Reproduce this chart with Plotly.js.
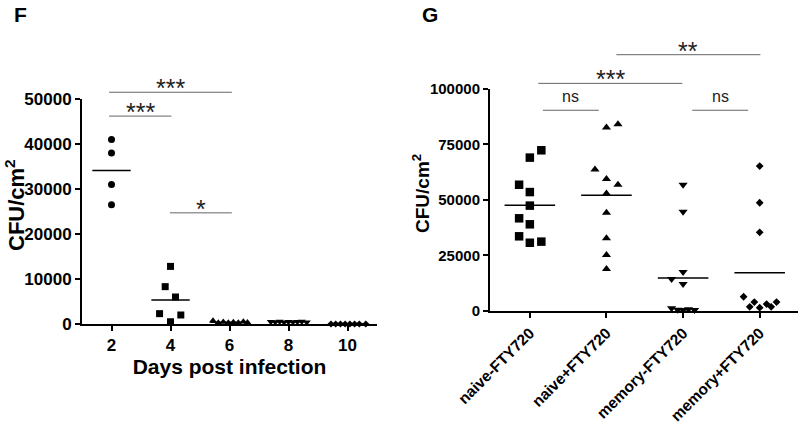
<!DOCTYPE html>
<html><head><meta charset="utf-8">
<script src="https://cdn.plot.ly/plotly-3.0.1.min.js"></script>
<style>html,body{margin:0;padding:0;background:#fff}</style>
</head><body><div id="chart" style="width:800px;height:424px"></div>
<script>
// ---------- Panel F data ----------
const dayTicks = [2, 4, 6, 8, 10];
const day2CFU = [41000, 38000, 31000, 26500];
const day2Jitter = [0, 0, 0, 0];
const day4CFU = [12800, 8300, 6000, 2300, 2000, 500];
const day4Jitter = [0, -0.18, 0.17, -0.37, 0.35, 0];
const day6CFU = [700, 300, 450, 250, 400, 300, 500, 350];
const day6Jitter = [-0.56, -0.38, -0.21, -0.04, 0.13, 0.30, 0.47, 0.61];
const day8CFU = [500, 450, 550, 400, 500, 450, 500, 550, 400];
const day8Jitter = [-0.6, -0.45, -0.3, -0.15, 0, 0.15, 0.3, 0.45, 0.62];
const day10CFU = [0, 0, 0, 0, 0, 0, 0, 0];
const day10Jitter = [-0.56, -0.4, -0.24, -0.08, 0.08, 0.24, 0.4, 0.62];
const fBracketStart = [1.92, 1.92, 3.98];
const fBracketEnd = [6.08, 4.03, 6.08];
const fBracketLevel = [51500, 46200, 24700];
const fBracketLabel = ['***', '***', '*'];

// ---------- Panel G data ----------
const groups = ['naive-FTY720', 'naive+FTY720', 'memory-FTY720', 'memory+FTY720'];
const naiveMinus = [72300, 69000, 56800, 53500, 47400, 41700, 39000, 33600, 30700, 31200];
const naiveMinusJitter = [0.15, 0, -0.14, 0, 0, -0.14, 0, -0.14, 0, 0.15];
const naivePlus = [84000, 82500, 63700, 59400, 56800, 52900, 44200, 32700, 25200, 18900];
const naivePlusJitter = [0.15, 0, -0.15, 0, 0.15, 0, 0, 0, 0, 0];
const memoryMinus = [56800, 44700, 17500, 14400, 12100, 1200, 600, 400, 800, 500];
const memoryMinusJitter = [0, 0, 0, -0.15, 0, -0.15, -0.07, 0, 0.07, 0.15];
const memoryPlus = [65200, 48700, 35400, 6400, 4000, 4000, 3100, 1900, 1900, 1500];
const memoryPlusJitter = [0, 0, 0, -0.21, -0.07, 0.22, 0.09, -0.13, 0.15, 0];
const gBracketStart = [1.13, 0.11, 0.17, 2.12];
const gBracketEnd = [3.01, 1.99, 0.90, 2.85];
const gBracketLevel = [115300, 102400, 90300, 90300];
const gBracketLabel = ['**', '***', 'ns', 'ns'];

const yTitle = 'CFU/cm<sup>2</sup>';
const xTitleF = 'Days post infection';

// ---------- helpers ----------
const FONT = 'Liberation Sans, Arial, sans-serif';
const mean = a => a.reduce((s, v) => s + v, 0) / a.length;
const FMAX = 50000, GMAX = 100000;

function pts(center, jitter, vals, symbol, size, xa, ya) {
  return {
    type: 'scatter', mode: 'markers', xaxis: xa, yaxis: ya,
    x: jitter.map(j => center + j), y: vals, cliponaxis: false,
    marker: {symbol: symbol, size: size, color: 'black'}, hoverinfo: 'y'
  };
}
function meanLine(center, half, vals, xa, ya) {
  const m = mean(vals);
  return {
    type: 'scatter', mode: 'lines', xaxis: xa, yaxis: ya, cliponaxis: false,
    x: [center - half, center + half], y: [m, m],
    line: {color: 'black', width: 1.5}, hoverinfo: 'skip'
  };
}

const fSets = [
  [day2CFU, day2Jitter, 'circle', 7],
  [day4CFU, day4Jitter, 'square', 7],
  [day6CFU, day6Jitter, 'triangle-up', 7],
  [day8CFU, day8Jitter, 'triangle-down', 7],
  [day10CFU, day10Jitter, 'diamond', 5.5]
];
const gSets = [
  [naiveMinus, naiveMinusJitter, 'square', 8.5],
  [naivePlus, naivePlusJitter, 'triangle-up', 8],
  [memoryMinus, memoryMinusJitter, 'triangle-down', 8],
  [memoryPlus, memoryPlusJitter, 'diamond', 6]
];

const traces = [];
fSets.forEach((s, i) => {
  traces.push(meanLine(dayTicks[i], 0.65, s[0], 'x', 'y'));
  traces.push(pts(dayTicks[i], s[1], s[0], s[2], s[3], 'x', 'y'));
});
gSets.forEach((s, i) => {
  traces.push(meanLine(i, 0.33, s[0], 'x2', 'y2'));
  traces.push(pts(i, s[1], s[0], s[2], s[3], 'x2', 'y2'));
});

const shapes = [], annotations = [];
function addBrackets(starts, ends, levels, labels, xref, yref, ymax) {
  starts.forEach((s, i) => {
    const yd = levels[i] / ymax;
    shapes.push({type: 'line', xref: xref, yref: yref + ' domain',
      x0: s, x1: ends[i], y0: yd, y1: yd, line: {color: '#666', width: 1}});
    const isNs = labels[i] === 'ns';
    annotations.push({xref: xref, yref: yref + ' domain', x: (s + ends[i]) / 2, y: yd,
      text: labels[i], showarrow: false, yanchor: 'bottom',
      yshift: isNs ? 3 : -12,
      font: {family: FONT, size: isNs ? 16 : 25, color: '#222'}});
  });
}
addBrackets(fBracketStart, fBracketEnd, fBracketLevel, fBracketLabel, 'x', 'y', FMAX);
addBrackets(gBracketStart, gBracketEnd, gBracketLevel, gBracketLabel, 'x2', 'y2', GMAX);

annotations.push({xref: 'paper', yref: 'paper', x: 12 / 800, y: 1 - 1 / 424, xanchor: 'left', yanchor: 'top',
  text: '<b>F</b>', showarrow: false, font: {family: FONT, size: 21, color: 'black'}});
annotations.push({xref: 'paper', yref: 'paper', x: 420 / 800, y: 1 - 1 / 424, xanchor: 'left', yanchor: 'top',
  text: '<b>G</b>', showarrow: false, font: {family: FONT, size: 21, color: 'black'}});
// y-axis titles (rotated)
annotations.push({xref: 'paper', yref: 'paper', x: 15 / 800, y: 1 - 205 / 424, xanchor: 'center', yanchor: 'middle',
  textangle: -90, text: '<b>' + yTitle + '</b>', showarrow: false, font: {family: FONT, size: 22, color: 'black'}});
annotations.push({xref: 'paper', yref: 'paper', x: 421 / 800, y: 1 - 194 / 424, xanchor: 'center', yanchor: 'middle',
  textangle: -90, text: '<b>' + yTitle + '</b>', showarrow: false, font: {family: FONT, size: 19, color: 'black'}});

const axBase = {
  showline: true, linewidth: 2, linecolor: 'black', showgrid: false, zeroline: false,
  ticks: 'outside', ticklen: 5, tickwidth: 2, tickcolor: 'black', fixedrange: true
};

const layout = {
  width: 800, height: 424,
  margin: {l: 0, r: 0, t: 0, b: 0},
  paper_bgcolor: 'white', plot_bgcolor: 'white',
  showlegend: false,
  font: {family: FONT, color: 'black'},
  xaxis: Object.assign({}, axBase, {
    domain: [82 / 800, 377 / 800], anchor: 'y', range: [1, 11],
    tickvals: dayTicks, ticktext: dayTicks.map(String),
    tickfont: {family: FONT, size: 17, weight: 'bold'},
    title: {text: xTitleF, font: {family: FONT, size: 21, weight: 'bold'}, standoff: 5}
  }),
  yaxis: Object.assign({}, axBase, {
    domain: [(424 - 324) / 424, (424 - 99) / 424], anchor: 'x', range: [0, FMAX],
    dtick: 10000, tickformat: 'd',
    tickfont: {family: FONT, size: 17, weight: 'bold'}
  }),
  xaxis2: Object.assign({}, axBase, {
    domain: [490 / 800, 798 / 800], anchor: 'y2', range: [-0.52, 3.5],
    tickvals: groups.map((g, i) => i), ticktext: groups, tickangle: -45,
    tickfont: {family: FONT, size: 15.5, weight: 'bold'}
  }),
  yaxis2: Object.assign({}, axBase, {
    domain: [(424 - 311) / 424, (424 - 88.7) / 424], anchor: 'x2', range: [0, GMAX],
    dtick: 25000, tickformat: 'd',
    tickfont: {family: FONT, size: 15, weight: 'bold'}
  }),
  shapes: shapes,
  annotations: annotations
};

Plotly.newPlot('chart', traces, layout, {displayModeBar: false, staticPlot: true});
</script></body></html>
